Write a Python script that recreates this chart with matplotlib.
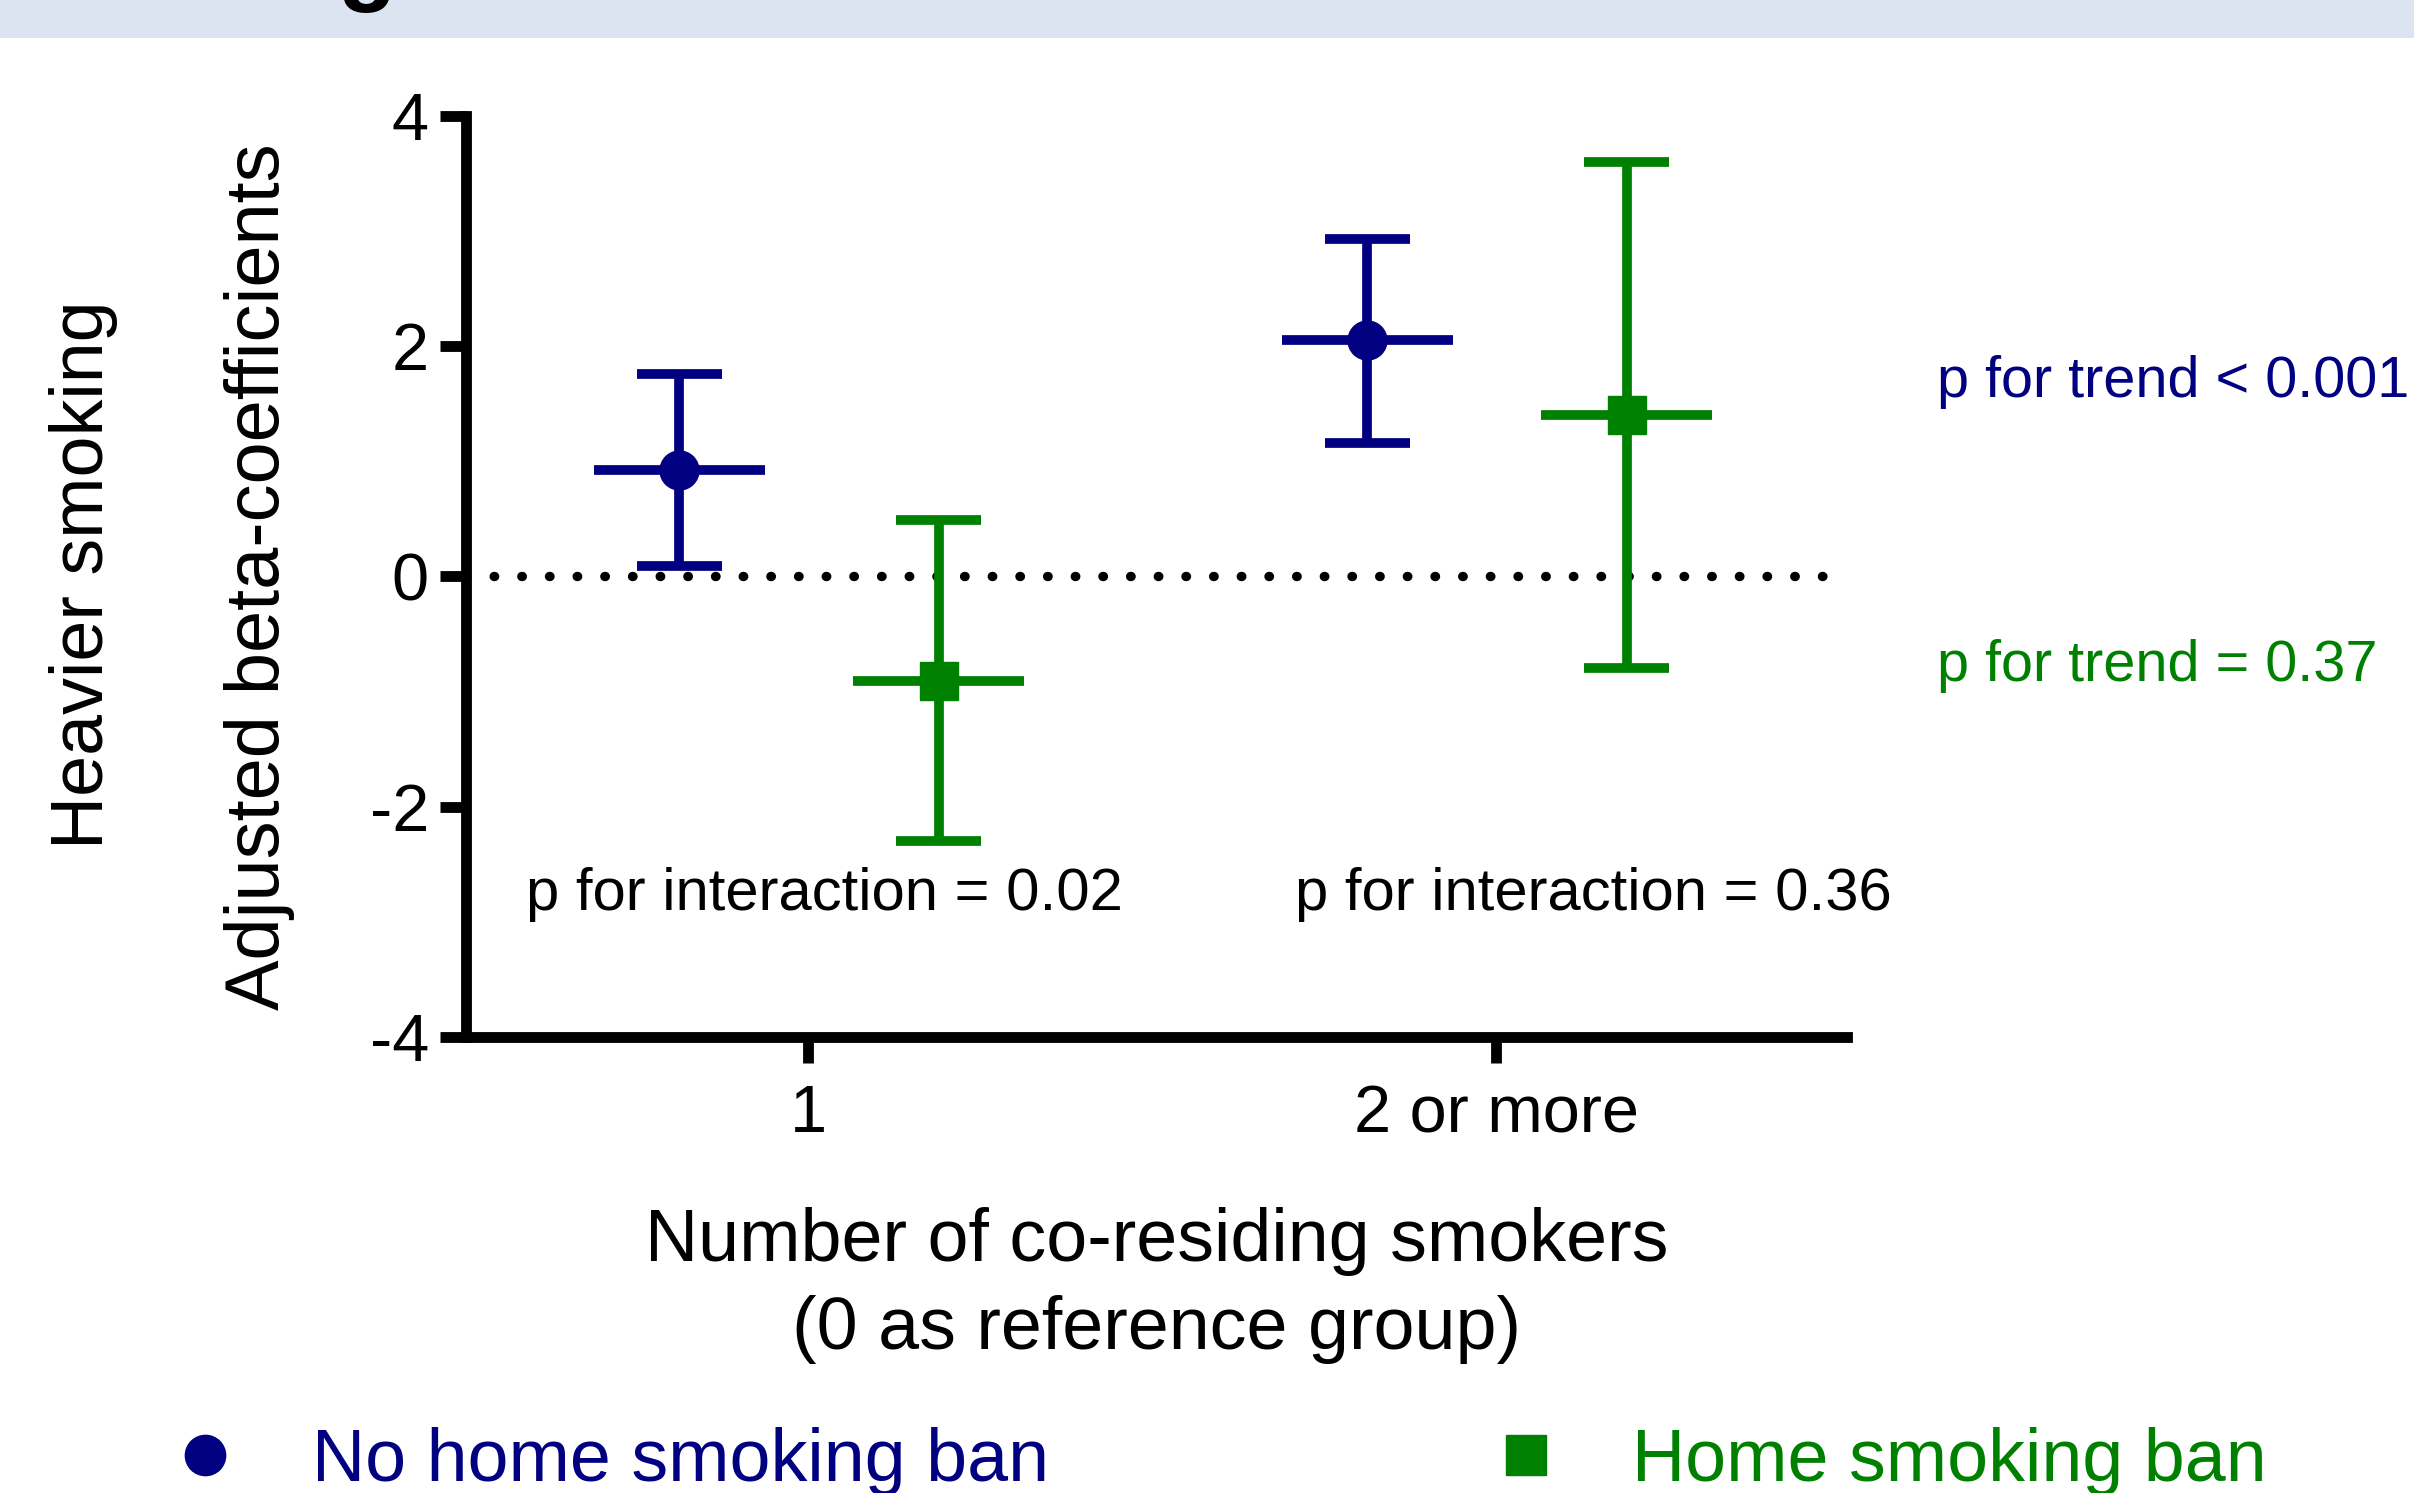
import matplotlib
matplotlib.use("Agg")
import matplotlib.pyplot as plt
from matplotlib.lines import Line2D
from matplotlib.patches import Rectangle
import numpy as np

plt.rcParams['font.family'] = ['Liberation Sans', 'DejaVu Sans']

# Données
categories = ["1", "2 or more"]
groupes = ["No home smoking ban", "Home smoking ban"]
couleurs = ["#000080", "#008000"]
marqueurs = ["o", "s"]
decalages = [-0.187, 0.19]

moyenne_sans_ban = [0.92, 2.05]
bas_sans_ban = [0.09, 1.16]
haut_sans_ban = [1.76, 2.93]

moyenne_ban = [-0.91, 1.40]
bas_ban = [-2.30, -0.80]
haut_ban = [0.49, 3.60]

p_interaction = ["p for interaction = 0.02", "p for interaction = 0.36"]
p_trend = ["p for trend < 0.001", "p for trend = 0.37"]

moyennes = [moyenne_sans_ban, moyenne_ban]
bas = [bas_sans_ban, bas_ban]
hauts = [haut_sans_ban, haut_ban]

fig = plt.figure(figsize=(24.14, 14.93), dpi=100)
ax = fig.add_axes([0.1932, 0.3054, 0.5719, 0.6172])

# bandeau du titre (coupé)
fig.patches.append(Rectangle((0, 1 - 38 / 1493), 1, 38 / 1493, transform=fig.transFigure,
                             facecolor="#dce3f1", edgecolor="none", zorder=0))
fig.text(0.1395, 1.0047, "g", fontsize=69, fontweight="bold", ha="left", va="baseline")

# ligne de référence pointillée (pas de 27.6 px)
ax.axhline(0, color="black", lw=6.8, linestyle=(0, (0.05, 2.88)), dash_capstyle="round", zorder=1)

x = np.arange(1, len(categories) + 1)
lw = 7.0
for k in range(2):
    xs = x + decalages[k]
    m = np.array(moyennes[k])
    lo = np.array(bas[k])
    hi = np.array(hauts[k])
    c = couleurs[k]
    ax.vlines(xs, lo, hi, color=c, lw=lw, zorder=3)
    ax.hlines(lo, xs - 0.062, xs + 0.062, color=c, lw=lw, zorder=3)
    ax.hlines(hi, xs - 0.062, xs + 0.062, color=c, lw=lw, zorder=3)
    ax.hlines(m, xs - 0.124, xs + 0.124, color=c, lw=lw, zorder=3)
    ax.plot(xs, m, linestyle="none", marker=marqueurs[k], color=c, markersize=28, zorder=4)

ax.set_xlim(0.5036, 2.51)
ax.set_ylim(-4, 4)
ax.set_yticks([-4, -2, 0, 2, 4])
ax.set_yticklabels(["-4", "-2", "0", "2", "4"])
ax.set_xticks(x)
ax.set_xticklabels(categories)

for s in ["top", "right"]:
    ax.spines[s].set_visible(False)
for s in ["left", "bottom"]:
    ax.spines[s].set_linewidth(7.8)
ax.tick_params(axis="both", length=19, width=7.8, labelsize=48, colors="black")
ax.tick_params(axis="y", pad=8)
ax.tick_params(axis="x", pad=15)

ax.set_xlabel("Number of co-residing smokers\n(0 as reference group)", fontsize=53, labelpad=44,
              linespacing=1.35)
fig.text(0.1077, 0.6135, "Adjusted beta-coefficients", rotation=90, fontsize=54.5,
         ha="center", va="center")
fig.text(0.0344, 0.615, "Heavier smoking", rotation=90, fontsize=53, ha="center", va="center")

# annotations
ax.text(0.590, -2.90, p_interaction[0], fontsize=43, ha="left", va="baseline")
ax.text(1.708, -2.90, p_interaction[1], fontsize=43, ha="left", va="baseline")
ax.text(2.641, 1.556, p_trend[0], fontsize=41.5, color=couleurs[0], ha="left", va="baseline",
        clip_on=False)
ax.text(2.641, -0.905, p_trend[1], fontsize=41.5, color=couleurs[1], ha="left", va="baseline",
        clip_on=False)

# légende
pos_legende = [0.0696, 0.6168]
for k in range(2):
    h = Line2D([], [], linestyle="none", marker=marqueurs[k], color=couleurs[k], markersize=29)
    fig.legend([h], [groupes[k]], loc="center left", bbox_to_anchor=(pos_legende[k], 0.0214),
               frameon=False, fontsize=53, handlelength=1.0, handletextpad=0.95,
               borderpad=0, borderaxespad=0, labelcolor=couleurs[k])

fig.savefig("out.png", dpi=100)
